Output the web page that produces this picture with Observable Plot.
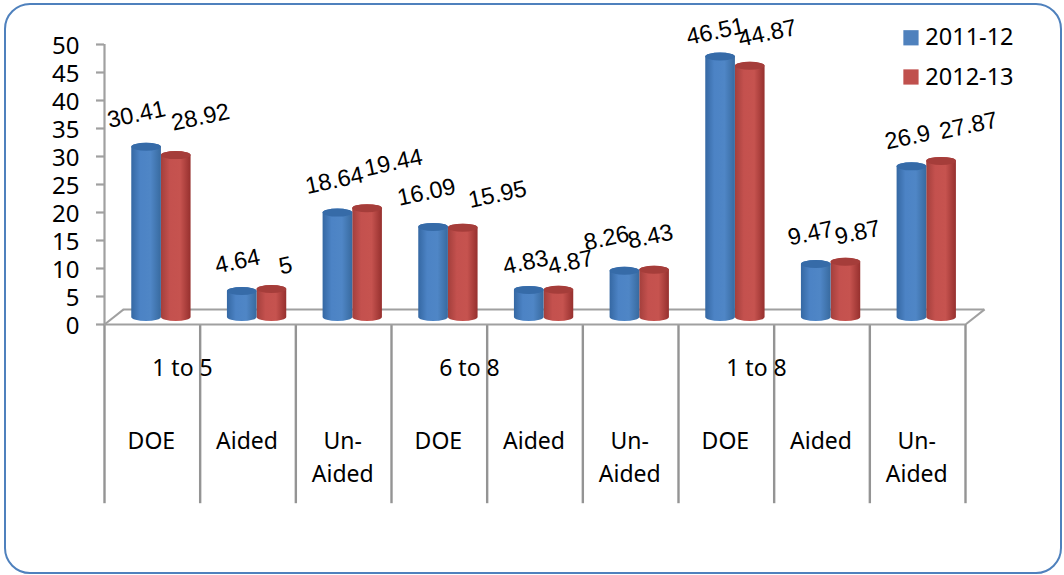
<!DOCTYPE html>
<html>
<head>
<meta charset="utf-8">
<script src="https://cdn.jsdelivr.net/npm/d3@7"></script>
<script src="https://cdn.jsdelivr.net/npm/@observablehq/plot@0.6"></script>
<style>
html,body{margin:0;padding:0;background:#fff;}
#frame{position:absolute;left:4px;top:3px;width:1058px;height:571px;box-sizing:border-box;border:2.5px solid #4f81bd;border-radius:26px;}
#chart{position:absolute;left:0;top:0;}
svg{background:transparent;}
</style>
</head>
<body>
<div id="frame"></div>
<div id="chart"></div>
<script>
const categories = ["DOE","Aided","Un-\nAided","DOE","Aided","Un-\nAided","DOE","Aided","Un-\nAided"];
const groups = ["1 to 5","6 to 8","1 to 8"];
const seriesNames = ["2011-12","2012-13"];
const values2011 = [30.41,4.64,18.64,16.09,4.83,8.26,46.51,9.47,26.9];
const values2012 = [28.92,5,19.44,15.95,4.87,8.43,44.87,9.87,27.87];
const yTicks = [0,5,10,15,20,25,30,35,40,45,50];

const table = categories.flatMap((c,i)=>[
  {i,cat:c,series:0,value:values2011[i]},
  {i,cat:c,series:1,value:values2012[i]}
]);

// hand-placed data labels, in chart units (as moved by hand in the original)
const labelX = [[.334,1.39,2.404,3.366,4.401,5.247,6.387,7.38,8.394],[1.003,1.892,3.021,4.108,4.871,5.707,6.93,7.871,9.031]];
const labelY = [[37.5,11.25,25.7,23.6,11.1,15.4,52.3,16.25,33.4],[37,10.5,28.9,23.2,11.1,15.7,52,16.4,35.5]];
const barLeft = s => s===0 ? .285 : .595;
const barW = .31;
const lift = -7;
const rules = d3.range(0,10);
const AR = "'Liberation Sans',Arial,sans-serif";
const grey = "#a0a0a0";
const greyDark = "#949494";

function defs(){
  const d = d3.create("svg:defs");
  const mk=(id,stops)=>{
    const g=d.append("linearGradient").attr("id",id).attr("x1","0").attr("x2","1").attr("y1","0").attr("y2","0");
    stops.forEach(([o,c])=>g.append("stop").attr("offset",o).attr("stop-color",c));
  };
  mk("gb",[[0,"#3568a3"],[.3,"#4c83c5"],[.65,"#4f86c6"],[1,"#386a9f"]]);
  mk("gr",[[0,"#a33f3c"],[.3,"#c4514e"],[.65,"#c6534f"],[1,"#96302e"]]);
  return d.node();
}
const seriesRows = s => table.filter(d=>d.series===s);
const cyl = s => [
  Plot.rect(seriesRows(s),{x1:d=>d.i+barLeft(s),x2:d=>d.i+barLeft(s)+barW,y1:0,y2:"value",
    insetTop:-4,insetBottom:-4,rx:15,ry:4,dy:lift,fill:s===0?"url(#gb)":"url(#gr)"}),
  Plot.rect(seriesRows(s),{x1:d=>d.i+barLeft(s),x2:d=>d.i+barLeft(s)+barW,y1:"value",y2:"value",
    insetTop:-4,insetBottom:-4,rx:15,ry:4,dy:lift,fill:s===0?"#366ba8":"#a53d3a"})
];
const floorX=.2, floorY=2.7;

const chart = Plot.plot({
  width:1064,height:575,
  marginLeft:104,marginRight:99,marginTop:44,marginBottom:251,
  style:{fontFamily:"'Noto Sans',sans-serif",background:"transparent",color:"#000",overflow:"visible"},
  x:{type:"linear",domain:[0,9],range:[104,965],axis:null},
  y:{domain:[0,50],range:[324,44],axis:null},
  marks:[
    defs,
    Plot.ruleX([0],{y1:0,y2:50,stroke:grey,strokeWidth:2.2}),
    Plot.axisY(yTicks,{anchor:"left",tickSize:8,tickPadding:17,text:null,stroke:grey,strokeWidth:2.2,label:null}),
    Plot.text(yTicks,{x:0,y:d=>d,text:d=>String(d),dx:-25,dy:2,textAnchor:"end",fontSize:24,fill:"#000"}),
    Plot.ruleX(rules,{y1:0,y2:-32,stroke:greyDark,strokeWidth:2.4}),
    Plot.ruleY([0],{x1:0,x2:9,stroke:grey,strokeWidth:2.2}),
    Plot.ruleY([floorY],{x1:floorX,x2:9+floorX,stroke:grey,strokeWidth:2}),
    Plot.link([0,9],{x1:d=>d,y1:0,x2:d=>d+floorX,y2:floorY,stroke:grey,strokeWidth:2}),
    ...cyl(1),
    ...cyl(0),
    Plot.text(seriesRows(0),{x:d=>labelX[0][d.i],y:d=>labelY[0][d.i],text:d=>String(d.value),rotate:-12,fontSize:23.5,fontFamily:AR,fill:"#000"}),
    Plot.text(seriesRows(1),{x:d=>labelX[1][d.i],y:d=>labelY[1][d.i],text:d=>String(d.value),rotate:-12,fontSize:23.5,fontFamily:AR,fill:"#000"}),
    Plot.text(categories,{x:(d,i)=>i+.49,y:-18.1,text:d=>d,fontSize:23,lineAnchor:"top",lineHeight:1.43,fill:"#000"}),
    Plot.text(groups,{x:(d,i)=>3*i+.815,y:-7.8,text:d=>d,fontSize:23,fill:"#000"}),
    Plot.dot(seriesNames,{x:8.43,y:(d,i)=>i?44.2:51.2,symbol:"square",r:8.6,fill:(d,i)=>i?"#c0504d":"#4f81bd"}),
    Plot.text(seriesNames,{x:8.58,y:(d,i)=>i?44.2:51.2,text:d=>d,textAnchor:"start",fontSize:23.5,fill:"#000"})
  ]
});
document.getElementById("chart").appendChild(chart);
</script>
</body>
</html>
